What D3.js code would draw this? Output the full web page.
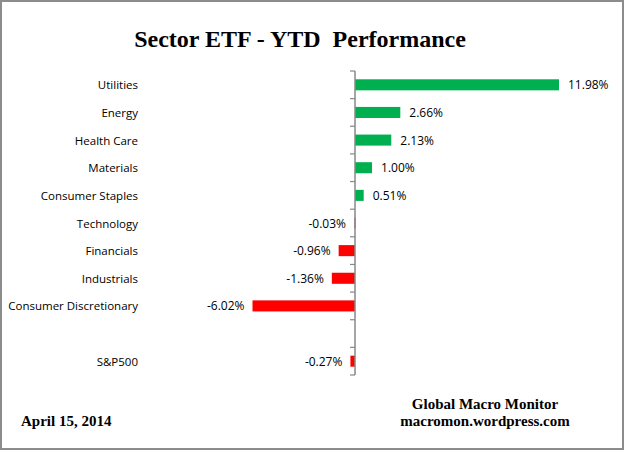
<!DOCTYPE html>
<html>
<head>
<meta charset="utf-8">
<script src="https://cdn.jsdelivr.net/npm/d3@7"></script>
<style>
  html, body { margin: 0; padding: 0; background: #fff; }
  svg { display: block; }
</style>
</head>
<body>
<svg id="chart" width="626" height="456"></svg>
<script>
const categories = ["Utilities", "Energy", "Health Care", "Materials", "Consumer Staples",
  "Technology", "Financials", "Industrials", "Consumer Discretionary", "", "S&P500"];
const values = [11.98, 2.66, 2.13, 1.00, 0.51, -0.03, -0.96, -1.36, -6.02, null, -0.27];
const titleText = "Sector ETF - YTD\u00a0\u00a0Performance";
const dateText = "April 15, 2014";
const sourceLines = ["Global Macro Monitor", "macromon.wordpress.com"];

const svg = d3.select("#chart");
const labelFont = "Open Sans, Liberation Sans, Arial, sans-serif";
const serifFont = "Liberation Serif, Times New Roman, serif";

// frame
svg.append("rect").attr("x", 1).attr("y", 1).attr("width", 622).attr("height", 448)
  .attr("fill", "#fff").attr("stroke", "#8c8c8c").attr("stroke-width", 2);

const keys = categories.map((c, i) => i);
const y = d3.scaleBand().domain(keys).range([71, 375]).paddingInner(0.6).paddingOuter(0.3);
const x = d3.scaleLinear().domain([-6.02, 11.98]).range([252.5, 559]);
const x0 = x(0);

// bars
const data = keys.filter(i => values[i] !== null).map(i => ({ i, v: values[i] }));
svg.append("g").selectAll("rect").data(data).join("rect")
  .attr("x", d => Math.min(x(d.v), x0))
  .attr("y", d => y(d.i))
  .attr("width", d => Math.max(1, Math.abs(x(d.v) - x0)))
  .attr("height", y.bandwidth())
  .attr("fill", d => d.v >= 0 ? "#00b050" : "#ff0000");

// axis line and ticks (category boundaries)
const step = y.step();
const tickPos = keys.map(k => y(k) - step * y.paddingInner() / 2).concat([y.range()[1]]);
const axisG = svg.append("g");
axisG.append("line").attr("x1", x0).attr("x2", x0).attr("y1", y.range()[0]).attr("y2", y.range()[1])
  .attr("stroke", "#888").attr("stroke-width", 1.5);
axisG.selectAll("line.tick").data(tickPos).join("line").attr("class", "tick")
  .attr("x1", x0 - 5).attr("x2", x0).attr("y1", d => d).attr("y2", d => d)
  .attr("stroke", "#888").attr("stroke-width", 1.2);

// category labels
svg.append("g").selectAll("text").data(keys).join("text")
  .attr("x", 138).attr("y", k => y(k) + y.bandwidth() / 2)
  .attr("text-anchor", "end").attr("dominant-baseline", "central")
  .attr("font-family", labelFont).attr("font-size", 11.5)
  .attr("fill", "#000").text(k => categories[k]);

// value labels
const fmt = v => v.toFixed(2) + "%";
svg.append("g").selectAll("text").data(data).join("text")
  .attr("x", d => d.v >= 0 ? x(d.v) + 9 : Math.min(x(d.v), x0 - 1) - 8)
  .attr("y", d => y(d.i) + y.bandwidth() / 2)
  .attr("text-anchor", d => d.v >= 0 ? "start" : "end")
  .attr("dominant-baseline", "central")
  .attr("font-family", labelFont).attr("font-size", 12)
  .attr("fill", "#000").text(d => fmt(d.v));

// title
svg.append("text").attr("x", 300).attr("y", 47).attr("text-anchor", "middle")
  .attr("font-family", serifFont).attr("font-weight", "bold")
  .attr("font-size", 24).attr("fill", "#000").text(titleText);

// footer
svg.append("text").attr("x", 21).attr("y", 426)
  .attr("font-family", serifFont).attr("font-weight", "bold")
  .attr("font-size", 15).attr("fill", "#000").text(dateText);
svg.append("g").selectAll("text").data(sourceLines).join("text")
  .attr("x", 485).attr("y", (d, i) => 409 + i * 17).attr("text-anchor", "middle")
  .attr("font-family", serifFont).attr("font-weight", "bold")
  .attr("font-size", 15).attr("fill", "#000").text(d => d);
</script>
</body>
</html>
